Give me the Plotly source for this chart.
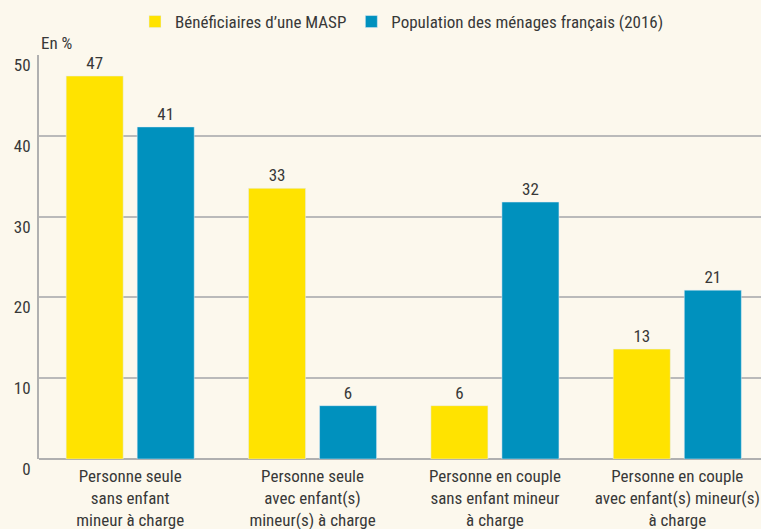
import plotly.graph_objects as go

categories = [
    "Personne seule<br>sans enfant<br>mineur à charge",
    "Personne seule<br>avec enfant(s)<br>mineur(s) à charge",
    "Personne en couple<br>sans enfant mineur<br>à charge",
    "Personne en couple<br>avec enfant(s) mineur(s)<br>à charge",
]
masp_values = [47.4, 33.5, 6.6, 13.6]
masp_labels = ["47", "33", "6", "13"]
pop_values = [41.1, 6.6, 31.8, 20.9]
pop_labels = ["41", "6", "32", "21"]
y_ticks = [0, 10, 20, 30, 40, 50]

FONT = "Liberation Sans Narrow, Roboto Condensed, Arial Narrow, sans-serif"
TXT = "#383838"
BG = "#FCF8ED"

fig = go.Figure()
fig.add_trace(go.Bar(
    name="Bénéficiaires d’une MASP", x=categories, y=masp_values,
    text=masp_labels, textposition="outside", marker_color="#FFE300",
    textfont=dict(size=17, color=TXT, family=FONT), cliponaxis=False,
))
fig.add_trace(go.Bar(
    name="Population des ménages français (2016)", x=categories, y=pop_values,
    text=pop_labels, textposition="outside", marker_color="#0091BE",
    textfont=dict(size=17, color=TXT, family=FONT), cliponaxis=False,
))

fig.update_layout(
    width=761, height=529,
    margin=dict(l=39, r=0, t=55, b=70),
    paper_bgcolor=BG, plot_bgcolor=BG,
    font=dict(family=FONT, size=17, color=TXT),
    barmode="group", bargap=0.221, bargroupgap=0.197,
    showlegend=True,
    legend=dict(orientation="h", x=0.133, xanchor="left", y=1 - 22 / 529,
                yref="container", yanchor="middle",
                font=dict(size=17, color=TXT, family=FONT),
                bgcolor="rgba(0,0,0,0)", traceorder="normal"),
    xaxis=dict(range=[-0.5, 3.459], showgrid=False, ticks="", showline=False,
               automargin=False, ticklabelstandoff=5,
               tickfont=dict(size=17, color=TXT, family=FONT)),
    yaxis=dict(range=[0, 50], tickvals=y_ticks, showgrid=True, gridcolor="#BABABA",
               gridwidth=2, showline=True, linecolor="#B0B0B0", linewidth=2,
               zeroline=True, zerolinecolor="#B0B0B0", zerolinewidth=2,
               automargin=False,
               ticks="", ticklabelstandoff=3, ticklabelshift=10,
               tickfont=dict(size=17, color=TXT, family=FONT)),
    annotations=[dict(text="En %", x=0, xref="paper", xanchor="left",
                      y=1 + 12 / 404, yref="paper", yanchor="middle",
                      showarrow=False, font=dict(size=17, color=TXT, family=FONT))],
)

fig.write_html("out.html", config={"displayModeBar": False},
               post_script="document.body.style.margin='0';document.body.style.overflow='hidden';")
